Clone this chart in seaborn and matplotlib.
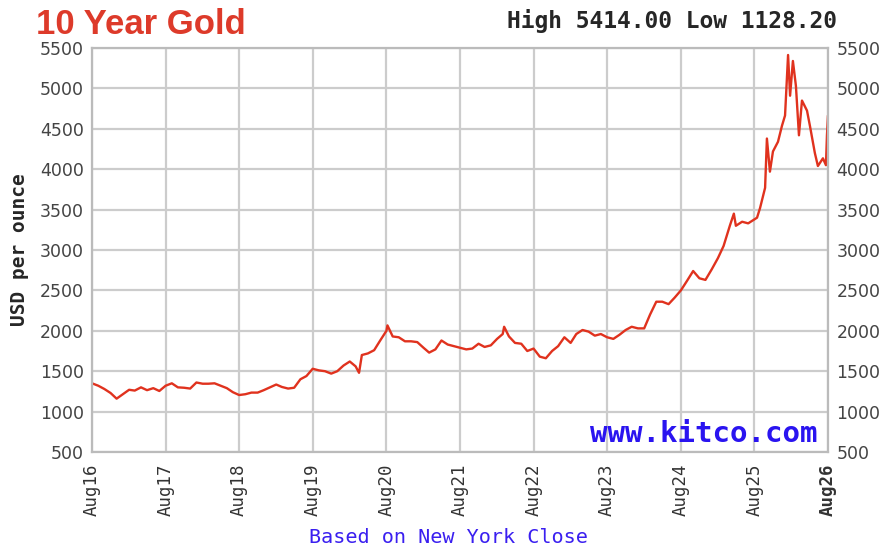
import pandas as pd
import matplotlib.pyplot as plt
import seaborn as sns

# monthly closes, Aug 2016 .. Aug 2025
monthly_prices = [
    1350, 1320, 1280, 1230, 1160,
    1215, 1270, 1260, 1300, 1265, 1290, 1255, 1320, 1350, 1300, 1295, 1285,
    1360, 1345, 1345, 1350, 1320, 1290, 1240, 1205, 1215, 1235, 1235, 1265,
    1300, 1335, 1305, 1285, 1295, 1400, 1440, 1530, 1510, 1500, 1470, 1500,
    1570, 1620, 1560, 1700, 1720, 1760, 1880, 2000, 1930, 1920, 1870, 1870,
    1860, 1790, 1730, 1770, 1880, 1830, 1810, 1790, 1770, 1780, 1840, 1800,
    1820, 1900, 1960, 1930, 1850, 1840, 1750, 1780, 1680, 1660, 1750, 1810,
    1920, 1850, 1960, 2010, 1990, 1940, 1960, 1920, 1900, 1950, 2010, 2050,
    2030, 2030, 2200, 2360, 2360, 2330, 2410, 2500, 2620, 2740, 2650, 2630,
    2760, 2900, 3050, 3300, 3300, 3350, 3330, 3380,
]

# a few spikes between month ends
spike_dates = ['2020-03-18', '2020-08-06', '2022-03-08', '2025-04-21']
spike_prices = [1480, 2067, 2050, 3450]

# last year, read more densely
recent_dates = [
    '2025-08-14', '2025-08-29', '2025-09-23', '2025-10-02', '2025-10-17',
    '2025-11-01', '2025-11-26', '2025-12-16', '2025-12-31', '2026-01-15',
    '2026-01-25', '2026-02-08', '2026-02-23', '2026-03-10', '2026-03-25',
    '2026-04-19', '2026-05-04', '2026-05-28', '2026-06-12', '2026-07-07',
    '2026-07-22', '2026-07-27', '2026-08-01',
]
recent_prices = [
    3400, 3520, 3770, 4380, 3970,
    4220, 4340, 4540, 4665, 5414,
    4910, 5340, 5030, 4420, 4850,
    4725, 4530, 4200, 4040, 4135,
    4050, 4420, 4665,
]

year_ticks = ['2016-08-01', '2017-08-01', '2018-08-01', '2019-08-01', '2020-08-01',
              '2021-08-01', '2022-08-01', '2023-08-01', '2024-08-01', '2025-08-01',
              '2026-08-01']
year_labels = ['Aug16', 'Aug17', 'Aug18', 'Aug19', 'Aug20', 'Aug21',
               'Aug22', 'Aug23', 'Aug24', 'Aug25', 'Aug26']
price_ticks = list(range(500, 6000, 500))

monthly_dates = pd.date_range('2016-08-01', periods=len(monthly_prices), freq='MS')
df = pd.DataFrame({
    'date': list(monthly_dates) + list(pd.to_datetime(spike_dates)) + list(pd.to_datetime(recent_dates)),
    'price': monthly_prices + spike_prices + recent_prices,
}).sort_values('date')

sns.set_style('whitegrid', {'grid.color': '#cccccc', 'axes.edgecolor': '#bbbbbb'})
plt.rcParams['font.family'] = ['DejaVu Sans']

fig = plt.figure(figsize=(8.9, 5.46), dpi=100)
ax = fig.add_axes([0.1034, 0.1722, 0.8269, 0.7398])

sns.lineplot(data=df, x='date', y='price', ax=ax, color='#e0321e', linewidth=1.7)

ax.set_xlim(pd.Timestamp(year_ticks[0]), pd.Timestamp(year_ticks[-1]))
ax.set_ylim(500, 5500)
ax.set_xticks(pd.to_datetime(year_ticks))
ax.set_xticklabels(year_labels, rotation=90, family='DejaVu Sans Mono', fontsize=12.5, color='#333333')
ax.get_xticklabels()[-1].set_fontweight('bold')
ax.set_yticks(price_ticks)
ax.set_yticklabels([str(v) for v in price_ticks], fontsize=12.5, color='#444444')
ax.tick_params(axis='y', length=0, pad=6, labelright=True)
ax.tick_params(axis='x', length=0, pad=8)
ax.grid(True, linewidth=1.6)
for s in ax.spines.values():
    s.set_color('#bbbbbb')
    s.set_linewidth(1.6)

ax.set_xlabel('')
ax.set_ylabel('USD per ounce', family='DejaVu Sans Mono', fontweight='bold', fontsize=14, labelpad=8)

fig.text(0.04, 0.955, '10 Year Gold', color='#dd3a2a', fontweight='bold', fontsize=25,
         family='Liberation Sans', va='center', ha='left')
fig.text(0.94, 0.962, 'High 5414.00 Low 1128.20', fontweight='bold', fontsize=16.5,
         family='DejaVu Sans Mono', va='center', ha='right')
ax.text(0.986, 0.01, 'www.kitco.com', transform=ax.transAxes, color='#2a14f0',
        fontweight='bold', fontsize=21, family='DejaVu Sans Mono', ha='right', va='bottom')
fig.text(0.504, 0.015, 'Based on New York Close', color='#3a1ff0', fontsize=14.5,
         family='DejaVu Sans Mono', ha='center', va='center')

plt.savefig('out.png', dpi=100)
